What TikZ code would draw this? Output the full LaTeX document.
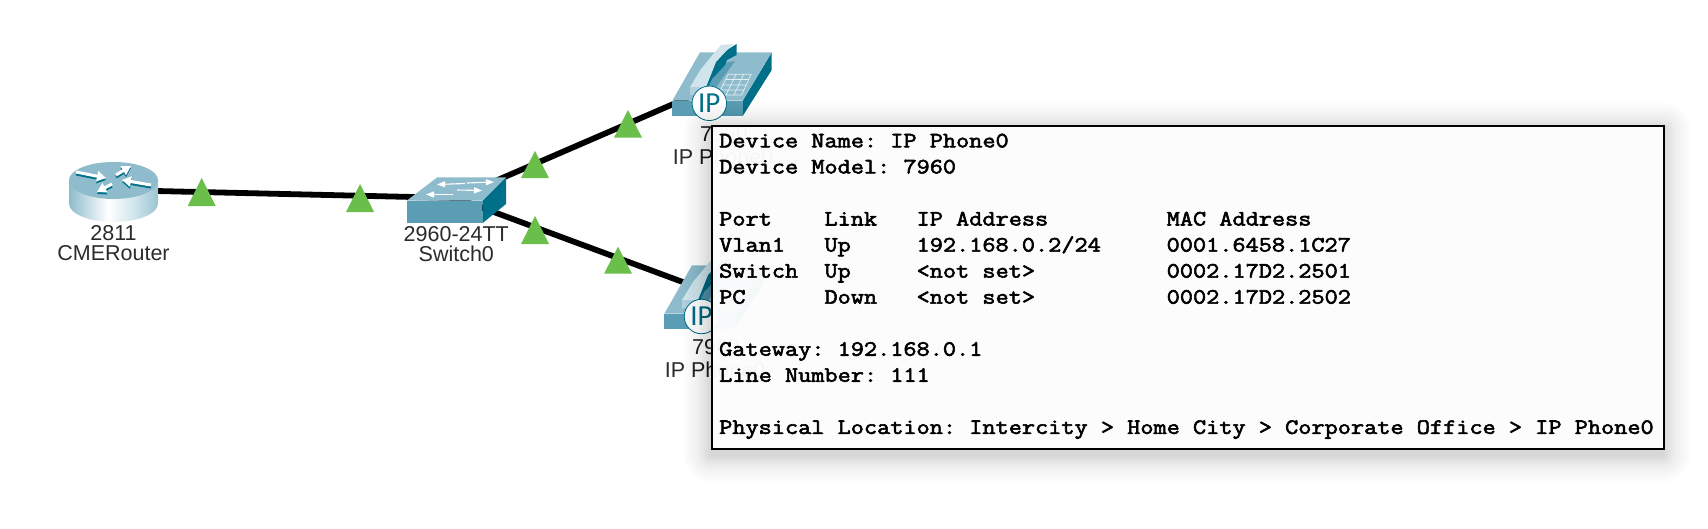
\documentclass[tikz,border=0pt]{standalone}
\usepackage{fontspec}
\setmainfont{Liberation Sans}
\setmonofont[FakeStretch=1.167,FakeBold=2.6]{Latin Modern Mono}
\newfontfamily\ipfont{Carlito}
\usetikzlibrary{arrows.meta}
\definecolor{topc}{HTML}{8FBCCC}
\definecolor{frontc}{HTML}{5A9DB4}
\definecolor{darkc}{HTML}{00708A}
\definecolor{paleH}{HTML}{CFE4EB}
\definecolor{linkg}{HTML}{6ABF4B}
\definecolor{labc}{HTML}{2B2B2B}
\pgfdeclarehorizontalshading{routerbody}{100bp}{
 color(0bp)=(topc!90!black); color(25bp)=(topc); color(47bp)=(white); color(62bp)=(paleH); color(78bp)=(topc); color(100bp)=(darkc)}
\tikzset{
 lab/.style={font=\fontsize{21.5}{21.5}\selectfont,text=labc,inner sep=0pt,anchor=base},
 wire/.style={line width=5.8pt,black},
 harrow/.style={white,line width=3pt,-{Triangle[length=9pt,width=10pt]}},
 sarrow/.style={darkc,line width=3pt,-{Triangle[length=9pt,width=10pt]}},
 swarrow/.style={white,line width=1.1pt,-{Triangle[length=8pt,width=6pt]}},
 ipmark/.style={circle,draw=darkc,line width=.8pt,fill=white,minimum size=34.5pt,inner sep=0pt,text=darkc,font=\ipfont\fontsize{29}{29}\selectfont}
}
\newcommand{\linkup}[3]{\fill[linkg] (#1,#2) -- (#1+14,#3) -- (#1-14,#3) -- cycle;}
\newcommand{\ipphone}[2]{%
 \begin{scope}[shift={(#1,#2)}]
  \fill[darkc] (77.7,65.7) -- (106.7,17.3) -- (106.7,35) -- (77.7,81) -- cycle;
  \fill[frontc] (7.3,65.7) -- (77.7,65.7) -- (77.7,81) -- (7.3,81) -- cycle;
  \fill[topc] (7.3,65.7) -- (35,17.3) -- (106.7,17.3) -- (77.7,65.7) -- cycle;
  \fill[frontc] (41,52) -- (60,28) -- (70,26) -- (44,62) -- cycle;
  \fill[darkc] (40,53) -- (50,27) -- (62,15) -- (71.5,9) -- (71.5,20) -- (62,25) -- (60,30) -- (47,44) -- (43,52) -- cycle;
  \fill[paleH] (25,52) -- (36,34) -- (50,17) -- (56,10) -- (68,9) -- (62,15) -- (51,27) -- (41,52) -- cycle;
  \fill[topc!70!white] (25,52) -- (41,52) -- (38,60) -- (25,60) -- cycle;
  \draw[white!75!topc,line width=.7pt]
   (53,60) -- (63.3,39.3) -- (86,39.3) -- (76.7,60) -- cycle
   (58.5,50) -- (81.5,50) (61,44.5) -- (84,44.5) (56,55) -- (79,55)
   (61,60) -- (71,39.3) (69,60) -- (78.5,39.3);
 \end{scope}}
\begin{document}
\begin{tikzpicture}[x=1pt,y=-1pt]
\useasboundingbox (0,0) rectangle (1708,528);
\coordinate (router) at (113.5,190);
\coordinate (switch) at (456,198);
\coordinate (phoneA) at (715,86);
\coordinate (phoneB) at (707,291);
\draw[wire] (router) -- (switch);
\draw[wire] (switch) -- (phoneA);
\draw[wire] (switch) -- (phoneB);
\linkup{201.7}{178}{206}
\linkup{360}{184}{212}
\linkup{535}{151}{178}
\linkup{628}{110}{137.7}
\linkup{535}{216}{244}
\linkup{618}{246.7}{273.7}
% router
\shade[shading=routerbody] (69,180.5) -- (69,203.5) arc[start angle=180,end angle=360,x radius=44.5pt,y radius=18.5pt] -- (158,180.5) arc[start angle=0,end angle=180,x radius=44.5pt,y radius=18.5pt] -- cycle;
\fill[topc] (113.5,180.5) ellipse[x radius=44.5pt,y radius=18.5pt];
\draw[sarrow] (76,174) -- (106,180);
\draw[harrow] (76,172) -- (106,178);
\draw[sarrow] (116,177) -- (131,168);
\draw[harrow] (116,175) -- (131,166);
\draw[sarrow] (151,187) -- (122,182);
\draw[harrow] (151,185) -- (122,180);
\draw[sarrow] (112,186) -- (97,194);
\draw[harrow] (112,184) -- (97,192);
\node[lab] (routerA) at (113.5,240) {2811};
\node[lab] (routerB) at (113.5,260) {CMERouter};
% switch
\fill[darkc] (482.3,200.7) -- (506,177.3) -- (506,204) -- (482.3,223.3) -- cycle;
\fill[frontc] (406.7,200.7) -- (482.3,200.7) -- (482.3,223.3) -- (406.7,223.3) -- cycle;
\fill[topc] (406.7,200.7) -- (437.3,177.3) -- (506,177.3) -- (482.3,200.7) -- cycle;
\draw[swarrow] (465,183.5) -- (437,184.5);
\draw[swarrow] (467,183) -- (494,182);
\draw[swarrow] (453,194.5) -- (426,194.5);
\draw[swarrow] (457,190) -- (482,190.5);
\node[lab] (switchA) at (456.3,241.7) {2960-24TT};
\node[lab] (switchB) at (456.3,261.7) {Switch0};
% phones
\ipphone{665}{35}
\ipphone{657}{248}
\node[lab] (phoneAa) at (724,141.7) {7960};
\node[lab] (phoneAb) at (723,164) {IP Phone0};
\node[lab] (phoneBa) at (716,354.7) {7960};
\node[lab] (phoneBb) at (715,377) {IP Phone0};
\node[ipmark] (ipA) at (709.3,103.3) {IP};
\node[ipmark] (ipB) at (701.5,316.5) {IP};
% popup shadow: graded so it fades out with no visible outer edge
\foreach \s in {1,...,36}{
 \pgfmathsetmacro{\shadeop}{.0085*(37-\s)/36}
 \fill[black,opacity=\shadeop,rounded corners=\s pt] (711-\s,124.5+5-\s) rectangle (1663+\s,447.7+7+\s);
}
% popup
\node[draw=black,line width=2.2pt,fill=white,fill opacity=.96,draw opacity=1,inner sep=0pt,anchor=north west,minimum width=952pt,minimum height=323.2pt] (popup) at (711,124.5) {};
\node[anchor=north west,inner sep=0pt,align=left,font=\ttfamily\bfseries\fontsize{21.9}{26.05}\selectfont] (info) at (719,133.5) {%
Device~Name:~IP~Phone0\\
Device~Model:~7960\\
~\\
Port~~~~Link~~~IP~Address~~~~~~~~~MAC~Address\\
Vlan1~~~Up~~~~~192.168.0.2/24~~~~~0001.6458.1C27\\
Switch~~Up~~~~~<not~set>~~~~~~~~~~0002.17D2.2501\\
PC~~~~~~Down~~~<not~set>~~~~~~~~~~0002.17D2.2502\\
~\\
Gateway:~192.168.0.1\\
Line~Number:~111\\
~\\
Physical~Location:~Intercity~>~Home~City~>~Corporate~Office~>~IP~Phone0};
\end{tikzpicture}
\end{document}
